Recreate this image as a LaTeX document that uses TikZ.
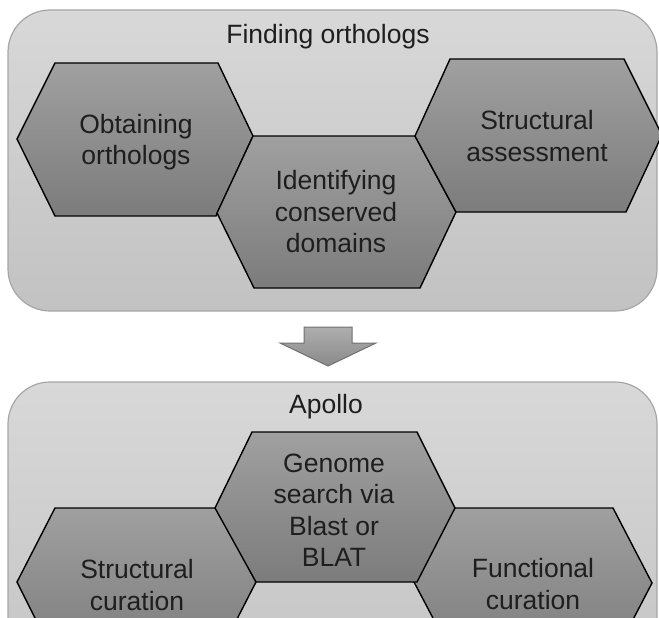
\documentclass[tikz,border=0pt]{standalone}
\usepackage{fontspec}
\setmainfont{Liberation Sans}
\definecolor{boxtop}{HTML}{D8D8D8}
\definecolor{boxbot}{HTML}{C2C2C2}
\definecolor{boxline}{HTML}{A6A6A6}
\definecolor{hextop}{HTML}{A0A0A0}
\definecolor{hexbot}{HTML}{7C7C7C}
\definecolor{arrtop}{HTML}{AEAEAE}
\definecolor{arrbot}{HTML}{8A8A8A}
\definecolor{arrline}{HTML}{707070}
\definecolor{txt}{HTML}{1E1E1E}
\tikzset{
  panel/.style={draw=boxline, line width=1.2pt, rounded corners=42pt, top color=boxtop, bottom color=boxbot},
  hexshape/.style={draw=black, line width=1.4pt, line join=miter, top color=hextop, bottom color=hexbot},
  arrowshape/.style={draw=arrline, line width=1pt, top color=arrtop, bottom color=arrbot},
  label/.style={text=txt, align=center, font=\fontsize{26.5}{31.5}\selectfont, inner sep=0pt},
  title/.style={text=txt, font=\fontsize{26.5}{31.5}\selectfont, inner sep=0pt}
}
\begin{document}
\begin{tikzpicture}[x=1pt,y=-1pt]
\useasboundingbox (0,0) rectangle (659,618);
\clip (0,0) rectangle (659,618);
% panels
\path[panel] (8,10) rectangle (657,311);
\path[panel] (8,382) rectangle (657,720);
% titles
\node[title] (t1) at (328,37) {Finding orthologs};
\node[title] (t2) at (326,407) {Apollo};
% top hexagons
\path[hexshape] (55,63) -- (218,63) -- (253,136) -- (216,216) -- (55,216) -- (17,139) -- cycle;
\path[hexshape] (253,136) -- (415,136) -- (456,212) -- (420,288) -- (254,288) -- (217,213) -- cycle;
\path[hexshape] (450,59) -- (624,59) -- (662,135) -- (626,212) -- (456,212) -- (415,136) -- cycle;
\node[label] (obt) at (136,142) {Obtaining\\orthologs};
\node[label] (ide) at (336,212) {Identifying\\conserved\\domains};
\node[label] (sta) at (537,136) {Structural\\assessment};
% arrow
\path[arrowshape] (304,327) -- (352,327) -- (352,343) -- (376,343) -- (328,366) -- (280,343) -- (304,343) -- cycle;
% bottom hexagons
\path[hexshape] (55,508) -- (217,508) -- (256,582) -- (217,658) -- (55,658) -- (17,582) -- cycle;
\path[hexshape] (414,582) -- (454,508) -- (613,508) -- (652,583) -- (613,658) -- (454,658) -- cycle;
\path[hexshape] (252,432) -- (417,432) -- (455,508) -- (417,582) -- (256,582) -- (215,508) -- cycle;
\node[label] (gen) at (334,510) {Genome\\search via\\Blast or\\BLAT};
\node[label] (stc) at (137,585) {Structural\\curation};
\node[label] (fun) at (533,584) {Functional\\curation};
\end{tikzpicture}
\end{document}
